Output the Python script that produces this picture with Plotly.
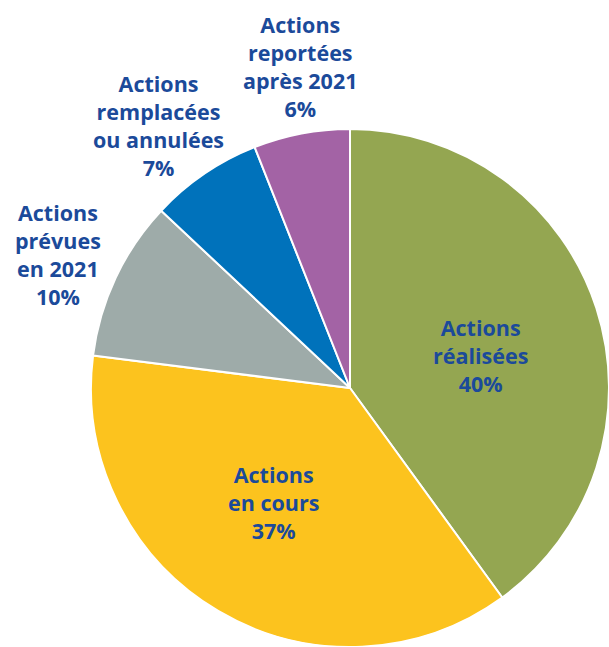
import plotly.graph_objects as go

labels = ["Actions<br>réalisées", "Actions<br>en cours", "Actions<br>prévues<br>en 2021",
          "Actions<br>remplacées<br>ou annulées", "Actions<br>reportées<br>après 2021"]
values = [40, 37, 10, 7, 6]
colors = ["#94A651", "#FCC31E", "#9EABA9", "#0072BB", "#A363A5"]
# label centres in pixels (layout only)
label_pos = [(480, 355), (273, 502), (58, 255), (158, 126), (300, 66)]

W, H = 609, 647
TEXT = "#1B4A9A"
FONT = "Open Sans"

fig = go.Figure(go.Pie(
    labels=labels, values=values, sort=False, direction="clockwise", rotation=0,
    marker=dict(colors=colors, line=dict(color="white", width=2)),
    textinfo="none", hoverinfo="label+percent", showlegend=False,
    domain=dict(x=[91 / W, 1.0], y=[0.0, 1 - 129 / H]),
))

for lab, val, (px, py) in zip(labels, values, label_pos):
    fig.add_annotation(
        x=px / W, y=1 - py / H, xref="paper", yref="paper",
        text=f"<b>{lab}<br>{val}%</b>", showarrow=False,
        xanchor="center", yanchor="middle", align="center",
        font=dict(family=FONT, size=21.5, color=TEXT),
    )

fig.update_layout(
    width=W, height=H, margin=dict(l=0, r=0, t=0, b=0),
    paper_bgcolor="white", plot_bgcolor="white",
)

fig.write_html("out.html")
